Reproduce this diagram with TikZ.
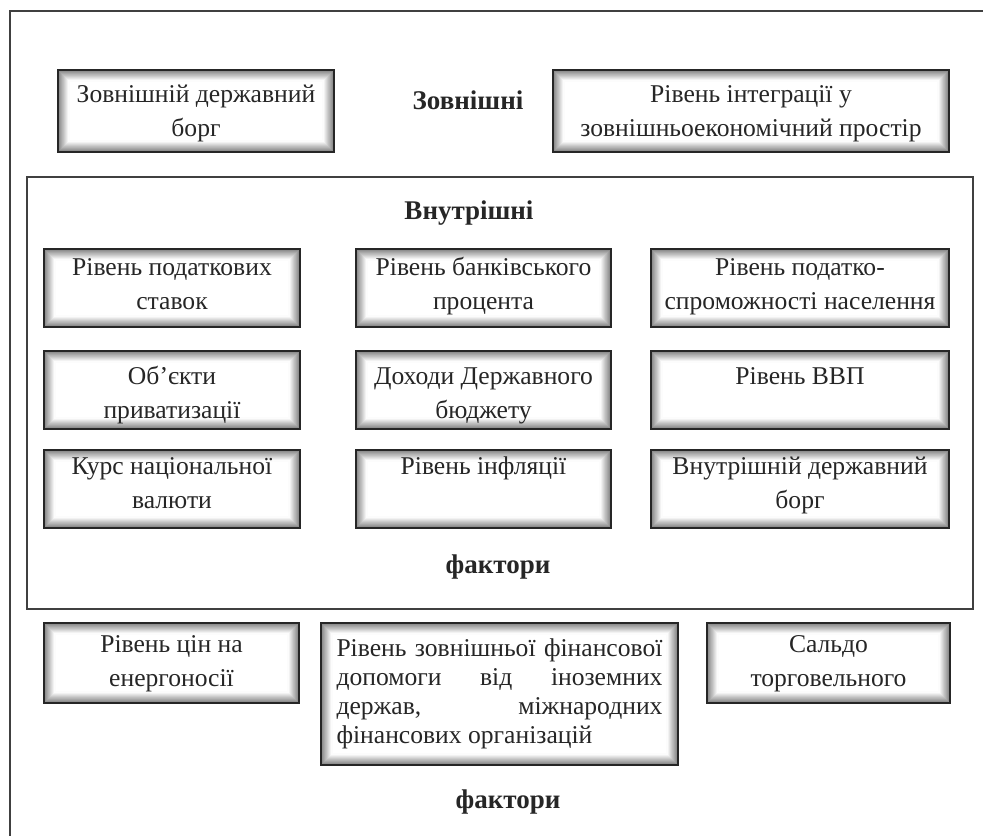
\documentclass[tikz,border=0pt]{standalone}
\usepackage{fontspec}
\setmainfont{Liberation Serif}
\begin{document}
\begin{tikzpicture}[x=0.5pt,y=-0.5pt,
  frame/.style={draw=black!75, line width=1pt},
  factor/.style={draw=black!85, line width=1.1pt, fill=white, inner sep=0pt,
    path picture={
      \foreach \i in {1,...,11}{
        \pgfmathtruncatemacro\shade{54-4.8*\i}
        \draw[draw=black!\shade, line width=0.6pt]
          ([shift={(\i*0.5pt,\i*0.5pt)}]path picture bounding box.south west)
          rectangle ([shift={(-\i*0.5pt,-\i*0.5pt)}]path picture bounding box.north east);
      }}},
  ftext/.style={inner sep=0pt, anchor=north, align=center, text=black!85,
    font=\fontsize{12.8}{17}\selectfont},
  title/.style={font=\fontsize{13.5}{16.5}\selectfont\bfseries, text=black!85}
]
\useasboundingbox (0,0) rectangle (983,835);
\clip (0,0) rectangle (983,835);

% outer frame: only its top and left sides lie on the page
\draw[frame] (1100,11) -- (10,11) -- (10,950);
% frame of the internal factors
\draw[frame] (27,177) rectangle (973,609);

% headings
\node[title] (ext) at (468,100) {Зовнішні};
\node[title] (int) at (469,213) {Внутрішні};
\node[title] (fint) at (498,567) {фактори};
\node[title] (fext) at (508,802) {фактори};

% external factors, top
\node[factor, minimum width=138pt, minimum height=41pt] (e1) at (196,111) {};
\node[factor, minimum width=198pt, minimum height=41pt] (e2) at (751,111) {};
\node[ftext] (e1t) at ([yshift=-4.5pt]e1.north) {\strut Зовнішній державний\\борг};
\node[ftext] (e2t) at ([yshift=-4.5pt]e2.north) {\strut Рівень інтеграції у\\зовнішньоекономічний простір};

% internal factors, three rows
\node[factor, minimum width=128pt, minimum height=39pt] (i11) at (172,288) {};
\node[factor, minimum width=127.5pt, minimum height=39pt] (i12) at (483.5,288) {};
\node[factor, minimum width=149pt, minimum height=39pt] (i13) at (800,288) {};
\node[ftext] (i11t) at ([yshift=-1.5pt]i11.north) {\strut Рівень податкових\\ставок};
\node[ftext] (i12t) at ([yshift=-1.5pt]i12.north) {\strut Рівень банківського\\процента};
\node[ftext] (i13t) at ([yshift=-1.5pt]i13.north) {\strut Рівень податко-\\спроможності населення};

\node[factor, minimum width=128pt, minimum height=39pt] (i21) at (172,390) {};
\node[factor, minimum width=127.5pt, minimum height=39pt] (i22) at (483.5,390) {};
\node[factor, minimum width=149pt, minimum height=39pt] (i23) at (800,390) {};
\node[ftext] (i21t) at ([yshift=-5pt]i21.north) {\strut Об’єкти\\приватизації};
\node[ftext] (i22t) at ([yshift=-5pt]i22.north) {\strut Доходи Державного\\бюджету};
\node[ftext] (i23t) at ([yshift=-5pt]i23.north) {\strut Рівень ВВП};

\node[factor, minimum width=128pt, minimum height=39pt] (i31) at (172,489) {};
\node[factor, minimum width=127.5pt, minimum height=39pt] (i32) at (483.5,489) {};
\node[factor, minimum width=149pt, minimum height=39pt] (i33) at (800,489) {};
\node[ftext] (i31t) at ([yshift=-0.5pt]i31.north) {\strut Курс національної\\валюти};
\node[ftext] (i32t) at ([yshift=-0.5pt]i32.north) {\strut Рівень інфляції};
\node[ftext] (i33t) at ([yshift=-0.5pt]i33.north) {\strut Внутрішній державний\\борг};

% external factors, bottom
\node[factor, minimum width=127.5pt, minimum height=40pt] (b1) at (171.5,663) {};
\node[factor, minimum width=178.5pt, minimum height=71pt] (b2) at (499.5,694) {};
\node[factor, minimum width=121.5pt, minimum height=40pt] (b3) at (828.5,663) {};
\node[ftext] (b1t) at ([yshift=-3pt]b1.north) {\strut Рівень цін на\\енергоносії};
\node[ftext] (b3t) at ([yshift=-3pt]b3.north) {\strut Сальдо\\торговельного};
\node[ftext, anchor=center, align=left, font=\fontsize{12.8}{14.5}\selectfont] (b2t) at (b2.center)
  {\makebox[163pt][s]{Рівень зовнішньої фінансової}\\
   \makebox[163pt][s]{допомоги від іноземних}\\
   \makebox[163pt][s]{держав, міжнародних}\\
   фінансових організацій};
\end{tikzpicture}
\end{document}
